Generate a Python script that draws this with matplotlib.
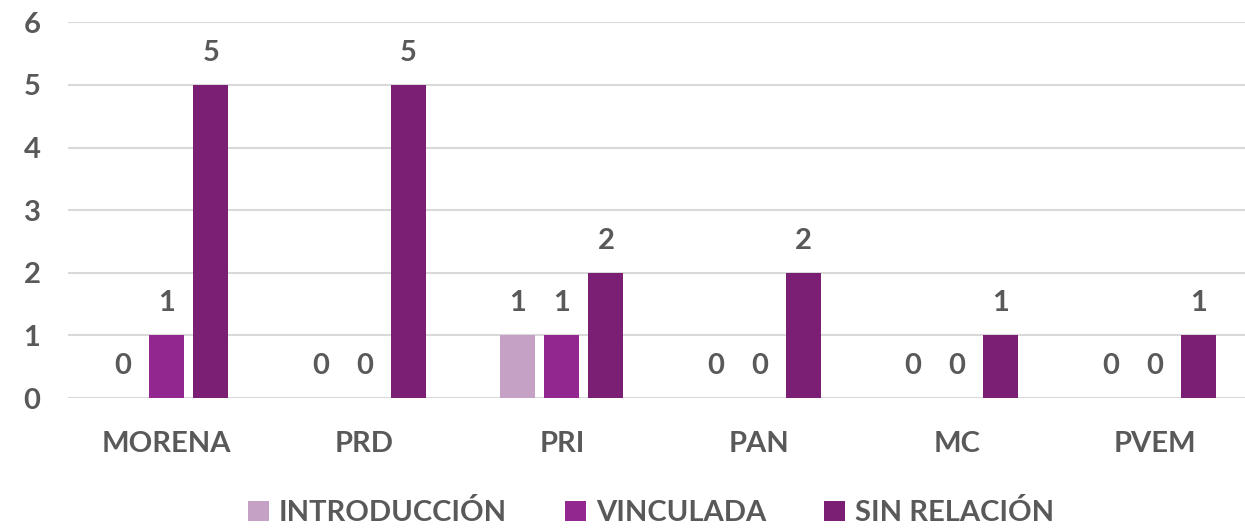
import numpy as np
import matplotlib.pyplot as plt

partidos = ['MORENA', 'PRD', 'PRI', 'PAN', 'MC', 'PVEM']
introduccion = [0, 0, 1, 0, 0, 0]
vinculada = [1, 0, 1, 0, 0, 0]
sin_relacion = [5, 5, 2, 2, 1, 1]

series = ['INTRODUCCIÓN', 'VINCULADA', 'SIN RELACIÓN']
colores = ['#C5A1C5', '#92278F', '#7A1F73']
gris = '#595959'

plt.rcParams['font.family'] = ['Lato', 'DejaVu Sans']
plt.rcParams['font.weight'] = 'bold'

fig = plt.figure(figsize=(12.45, 5.30), dpi=100)
ax = fig.add_axes([0.0546, 0.249, 0.952, 0.709])

x = np.arange(len(partidos))
ancho = 0.177
paso = 0.223
for i, (vals, nombre, c) in enumerate(zip([introduccion, vinculada, sin_relacion], series, colores)):
    pos = x + (i - 1) * paso
    ax.bar(pos, vals, ancho, color=c, label=nombre, zorder=3)
    for p, v in zip(pos, vals):
        ax.annotate(str(v), (p, v), xytext=(0, 23), textcoords='offset points',
                    ha='center', va='center', fontsize=21, color=gris, fontweight='bold')

ax.set_xlim(-0.5, len(partidos) - 0.5)
ax.set_ylim(0, 6)
ax.set_yticks(range(0, 7))
ax.set_xticks(x)
ax.set_xticklabels(partidos)
ax.tick_params(axis='both', length=0, labelsize=21, colors=gris)
ax.tick_params(axis='x', pad=24)
ax.tick_params(axis='y', pad=32)
for lab in ax.get_yticklabels():
    lab.set_horizontalalignment('left')
ax.grid(axis='y', color='#D9D9D9', linewidth=1.5, zorder=0)
for s in ax.spines.values():
    s.set_visible(False)

leg = ax.legend(loc='center', bbox_to_anchor=(0.492, -0.305), ncol=3, frameon=False,
                fontsize=21, handlelength=0.7, handleheight=0.7, handletextpad=0.35,
                columnspacing=2.0)
for t in leg.get_texts():
    t.set_color(gris)

fig.savefig('out.png', dpi=100)
